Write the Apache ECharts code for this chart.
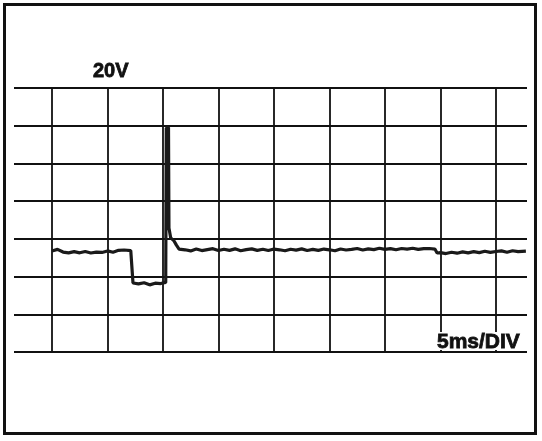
<!DOCTYPE html>
<html>
<head>
<meta charset="utf-8">
<script src="https://cdn.jsdelivr.net/npm/echarts@6/dist/echarts.min.js"></script>
<style>
  html, body { margin: 0; padding: 0; background: #fff; }
  #main { width: 542px; height: 441px; }
</style>
</head>
<body>
<div id="main"></div>
<script>
// trace: time in ms, level in volts (20 V per division)
var times = [
  0, 0.5, 1, 1.5, 2, 2.5, 3, 3.5, 4, 4.5, 5, 5.5, 6, 6.5, 7.1,
  7.3, 7.8, 8.3, 8.8, 9.3, 9.8, 10.25,
  10.3, 10.5, 10.54, 10.7, 11.0, 11.2, 11.45,
  12, 12.5, 13, 13.5, 14, 14.5, 15, 15.5, 16, 16.5,
  17, 17.5, 18, 18.5, 19, 19.5, 20, 20.5, 21, 21.5,
  22, 22.5, 23, 23.5, 24, 24.5, 25, 25.5, 26, 26.5,
  27, 27.5, 28, 28.5, 29, 29.5, 30, 30.5, 31, 31.5,
  32, 32.5, 33, 33.5, 34, 34.5,
  34.7, 35, 35.5, 36, 36.5, 37, 37.5, 38, 38.5, 39, 39.5, 40, 40.5, 41, 41.5, 42, 42.7
]
var volts = [
  53.6, 54.4, 53.0, 52.6, 53.2, 52.6, 53.3, 52.5, 53.0, 52.8, 53.6, 52.9, 53.9, 54.1, 53.8,
  36.6, 36.1, 36.7, 35.6, 36.5, 36.3, 36.9,
  118.8, 119.0, 65.8, 60.5, 58.9, 56.8, 54.6,
  54.2, 53.6, 54.6, 53.8, 54.3, 54.8, 53.8, 54.5, 53.9, 54.7,
  53.7, 54.3, 54.7, 53.9, 54.5, 53.8, 54.6, 54.2, 53.7, 54.5,
  54.0, 54.7, 53.8, 54.4, 53.9, 54.6, 54.2, 53.7, 54.6, 54.1,
  54.4, 54.9, 54.1, 54.7, 54.3, 55.0, 54.4, 54.8, 54.2, 54.9,
  54.6, 55.0, 54.4, 54.8, 54.9, 54.6,
  52.5, 52.7, 52.2, 52.9, 52.4, 53.1, 52.6, 53.2, 52.7, 53.4, 52.8, 53.3, 53.6, 52.9, 53.7, 53.2, 53.5
]
var voltLabel = '20V'
var timeLabel = '5ms/DIV'

var chart = echarts.init(document.getElementById('main'))

var trace = []
for (var i = 0; i < times.length; i++) {
  trace.push([times[i], volts[i]])
}

var gridLine = { color: '#111', width: 1.8 }
var labelFont = '"Liberation Sans", Arial, sans-serif'

chart.setOption({
  animation: false,
  grid: [
    { left: 14, right: 15, top: 88, bottom: 89 }, // trace + horizontal lines
    { left: 52, right: 46, top: 88, bottom: 89 }  // vertical division lines
  ],
  xAxis: [
    {
      gridIndex: 0, type: 'value', min: -3.42, max: 42.8,
      axisLine: { show: false }, axisTick: { show: false },
      axisLabel: { show: false }, splitLine: { show: false }
    },
    {
      gridIndex: 1, type: 'value', min: 0, max: 40, interval: 5,
      axisLine: { show: false }, axisTick: { show: false },
      axisLabel: { show: false },
      splitLine: { show: true, lineStyle: gridLine }
    }
  ],
  yAxis: [
    {
      gridIndex: 0, type: 'value', min: 0, max: 140, interval: 20,
      axisLine: { show: false }, axisTick: { show: false },
      axisLabel: { show: false },
      splitLine: { show: true, lineStyle: gridLine }
    },
    {
      gridIndex: 1, type: 'value', min: 0, max: 1,
      axisLine: { show: false }, axisTick: { show: false },
      axisLabel: { show: false }, splitLine: { show: false }
    }
  ],
  graphic: [
    {
      type: 'rect', z: 100,
      shape: { x: 4.5, y: 4.5, width: 531, height: 429 },
      style: { fill: 'none', stroke: '#111', lineWidth: 3 }
    },
    {
      type: 'rect', z: 100,
      shape: { x: 432, y: 332, width: 94, height: 18 },
      style: { fill: '#fff' }
    },
    {
      type: 'text', z: 101, x: 93, y: 61,
      style: { text: voltLabel, font: 'bold 20px ' + labelFont, fill: '#111', stroke: '#111', lineWidth: 0.8 }
    },
    {
      type: 'text', z: 101, x: 437, y: 332,
      style: { text: timeLabel, font: 'bold 21px ' + labelFont, fill: '#111', stroke: '#111', lineWidth: 0.8 }
    }
  ],
  series: [
    {
      type: 'line',
      xAxisIndex: 0, yAxisIndex: 0,
      showSymbol: false,
      lineStyle: { color: '#1a1a1a', width: 3.2 },
      data: trace
    }
  ]
})
</script>
</body>
</html>
